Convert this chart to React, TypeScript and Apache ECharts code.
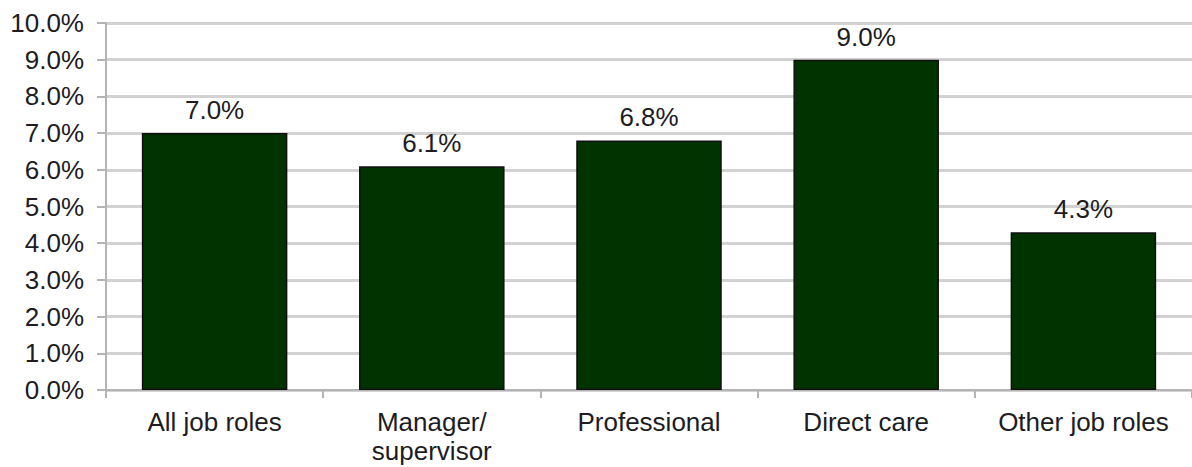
import React, { useEffect, useRef } from "react";
import * as echarts from "echarts";

const categories = ["All job roles", "Manager/\nsupervisor", "Professional", "Direct care", "Other job roles"];
const values = [7.0, 6.1, 6.8, 9.0, 4.3];
const yMin = 0;
const yMax = 10;
const yStep = 1;

const FONT = "'Liberation Sans', Arial, sans-serif";
const TEXT = "#1c1c22";

export default function App() {
  const ref = useRef<HTMLDivElement>(null);
  useEffect(() => {
    if (!ref.current) return;
    const chart = echarts.init(ref.current, undefined, { renderer: "svg" });
    chart.setOption({
      animation: false,
      backgroundColor: "#ffffff",
      grid: { left: 106, top: 23, width: 1092, height: 367, containLabel: false },
      xAxis: {
        type: "category",
        data: categories,
        axisLine: { show: true, lineStyle: { color: "#b4b4b4", width: 2 } },
        axisTick: { show: true, length: 8, lineStyle: { color: "#b4b4b4", width: 2 } },
        axisLabel: {
          color: TEXT,
          fontFamily: FONT,
          fontSize: 26,
          lineHeight: 29,
          margin: 17,
          interval: 0,
        },
      },
      yAxis: {
        type: "value",
        min: yMin,
        max: yMax,
        interval: yStep,
        axisLine: { show: true, lineStyle: { color: "#b4b4b4", width: 2 } },
        axisTick: { show: true, length: 9, lineStyle: { color: "#b4b4b4", width: 2 } },
        splitLine: { show: true, lineStyle: { color: "#d2d2d2", width: 3 } },
        axisLabel: {
          color: TEXT,
          fontFamily: FONT,
          fontSize: 26,
          margin: 22,
          formatter: (v: number) => v.toFixed(1) + "%",
        },
      },
      series: [
        {
          type: "bar",
          data: values,
          barWidth: "67%",
          itemStyle: { color: "#003300", borderColor: "#101010", borderWidth: 1.5 },
          label: {
            show: true,
            position: "top",
            distance: 10,
            color: TEXT,
            fontFamily: FONT,
            fontSize: 26,
            formatter: (p: any) => p.value.toFixed(1) + "%",
          },
        },
      ],
    });
    return () => chart.dispose();
  }, []);
  return (
    <div
      ref={ref}
      style={{ position: "absolute", left: 0, top: 0, width: 1192, height: 467, background: "#fff" }}
    />
  );
}
